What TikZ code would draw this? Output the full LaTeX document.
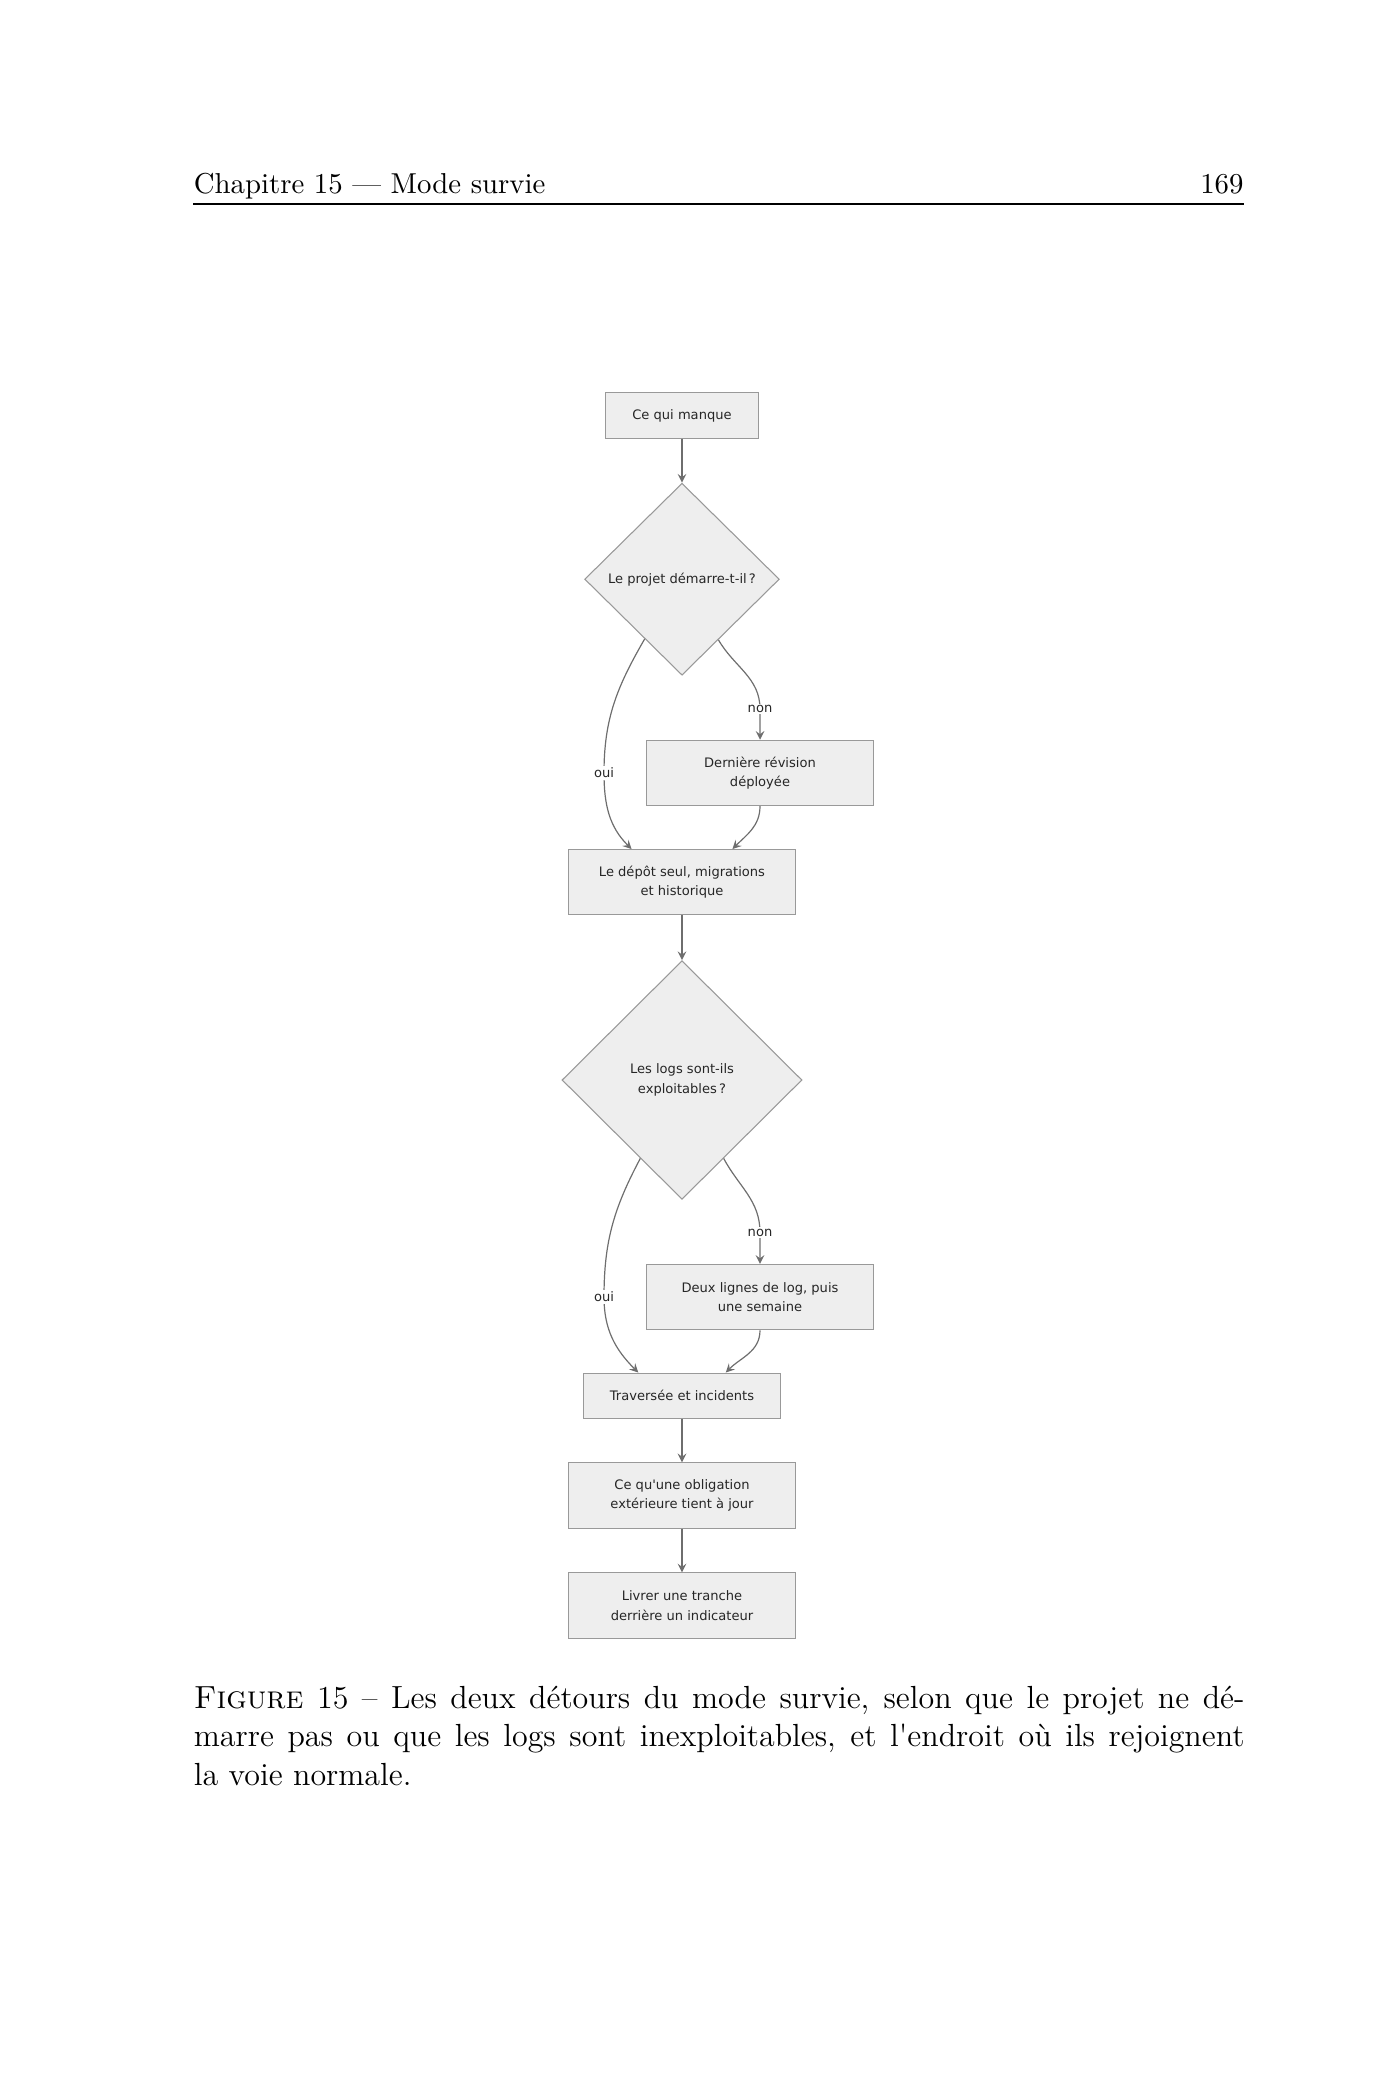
\documentclass[tikz,border=0pt]{standalone}
\usepackage{fontspec}
\newfontfamily\diagfont{DejaVu Sans}
\usetikzlibrary{positioning,shapes.geometric}

\definecolor{boxfill}{RGB}{238,238,238}
\definecolor{boxline}{RGB}{153,153,153}
\definecolor{edgecol}{RGB}{110,110,110}
\newcommand{\pagefont}{\fontsize{10.8pt}{13.1pt}\selectfont}
\newcommand{\capfont}{\fontsize{12pt}{14.5pt}\selectfont}
\newcommand{\boxfont}{\diagfont\fontsize{4.9pt}{7.25pt}\selectfont}

\begin{document}
\begin{tikzpicture}[>=stealth, node distance=16.5pt,
  box/.style={rectangle, draw=boxline, fill=boxfill, line width=0.4pt, text=black!85,
    font=\boxfont, inner xsep=10pt, minimum height=17pt, align=center},
  wide/.style={box, minimum width=85.25pt, minimum height=24.5pt},
  ask/.style={diamond, draw=boxline, fill=boxfill, line width=0.4pt, text=black!85,
    font=\boxfont, inner sep=0pt, align=center},
  flow/.style={->, draw=edgecol, line width=0.45pt},
  lab/.style={font=\boxfont, fill=white, text=black!85, inner sep=0.6pt}]

\path[use as bounding box] (0,0) rectangle (525pt,-787.5pt);

% en-tete
\node[anchor=base west, inner sep=0pt, font=\pagefont] (chap) at (72.5pt,-72.5pt) {Chapitre 15 --- Mode survie};
\node[anchor=base east, inner sep=0pt, font=\pagefont] (num) at (466.5pt,-72.5pt) {169};
\draw[line width=0.45pt] (72.5pt,-76.5pt) -- (466.5pt,-76.5pt);

% noeuds
\node[box] (manque) at (255.75pt,-155.8pt) {Ce qui manque};
\node[ask, minimum width=73pt, minimum height=72pt, below=of manque] (demarre) {Le projet démarre-t-il\,?};
\node[wide, below=24pt of demarre, xshift=29.25pt] (revision) {Dernière révision\\déployée};
\node[wide, below=65pt of demarre] (depot) {Le dépôt seul, migrations\\et historique};
\node[ask, minimum width=90pt, minimum height=89.5pt, below=16.75pt of depot] (logs) {Les logs sont-ils\\exploitables\,?};
\node[wide, below=24pt of logs, xshift=29.25pt] (semaine) {Deux lignes de log, puis\\une semaine};
\node[box, below=64.75pt of logs] (traversee) {Traversée et incidents};
\node[wide, below=16.25pt of traversee] (obligation) {Ce qu\textquotesingle une obligation\\extérieure tient à jour};
\node[wide, below=16.4pt of obligation] (tranche) {Livrer une tranche\\derrière un indicateur};

% liens
\draw[flow] (manque) -- (demarre);
\draw[flow] (demarre.238) to[out=240,in=90] ([xshift=-58.5pt]revision.center) node[lab]{oui}
      to[out=-90,in=135] ([xshift=-18.9pt]depot.north);
\draw[flow] (demarre.301) to[out=-60,in=90] ([yshift=11.5pt]revision.north) node[lab]{non} -- (revision.north);
\draw[flow] (revision.south) to[out=-90,in=45] ([xshift=18.9pt]depot.north);
\draw[flow] (depot) -- (logs);
\draw[flow] (logs.242) to[out=242,in=90] ([xshift=-58.5pt]semaine.center) node[lab]{oui}
      to[out=-90,in=135] ([xshift=-16.4pt]traversee.north);
\draw[flow] (logs.298) to[out=-62,in=90] ([yshift=11.75pt]semaine.north) node[lab]{non} -- (semaine.north);
\draw[flow] (semaine.south) to[out=-90,in=45] ([xshift=16.4pt]traversee.north);
\draw[flow] (traversee) -- (obligation);
\draw[flow] (obligation) -- (tranche);

% legende
\node[anchor=base west, inner sep=0pt, text width=394pt, align=justify, font=\capfont] (legende) at (72.5pt,-640.5pt)
  {\textsc{Figure} 15 -- Les deux détours du mode survie, selon que le projet ne dé-\linebreak
   marre pas ou que les logs sont inexploitables, et l\textquotesingle endroit où ils rejoignent\linebreak
   la voie normale.};
\end{tikzpicture}
\end{document}
